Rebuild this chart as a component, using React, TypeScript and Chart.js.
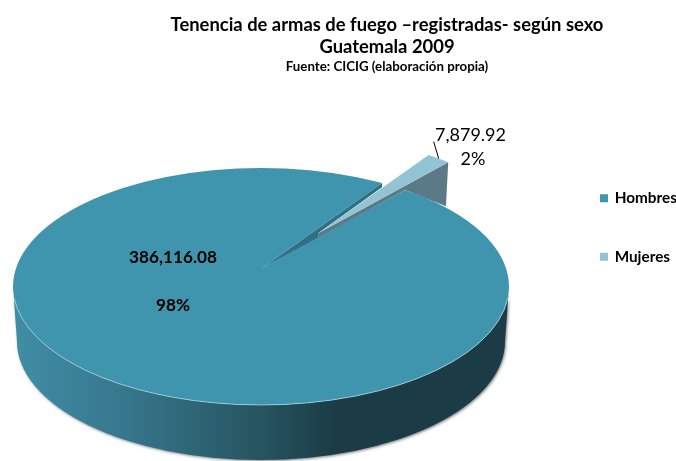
import React, { useEffect, useRef } from "react";
import { Chart, registerables } from "chart.js";

Chart.register(...registerables);

const categories = ["Hombres", "Mujeres"];
const values = [386116.08, 7879.92];
const sliceColors = ["#4095AE", "#93C4D6"];
const titleLines = ["Tenencia de armas de fuego –registradas- según sexo", "Guatemala 2009"];
const subtitleText = "Fuente: CICIG (elaboración propia)";

const FONT = "Lato, Carlito, sans-serif";
// apex of the slices (perspective puts it above the centre of the disc)
const APEX_X = 261.7;
const APEX_Y = 268.3;
// the disc outline
const DISC_X = 261;
const DISC_Y = 286.5;
const DISC_RX = 248;
const DISC_RY = 118.5;
const TILT = DISC_RY / DISC_RX;
const SLICE_RADIUS = 310;
const ROTATION = 41.2;
const RIM_DROP = 55;
const WEDGE_RADIUS = 197.5;
const WEDGE_OFFSET = 92.5;

const total = values.reduce((a, b) => a + b, 0);
const money = (v: number) => v.toLocaleString("en-US", { minimumFractionDigits: 2, maximumFractionDigits: 2 });
const pct = (v: number) => `${Math.round((v / total) * 100)}%`;

const pt = (ox: number, oy: number, r: number, a: number) => [ox + Math.cos(a) * r, oy + Math.sin(a) * r * TILT];

// where a ray leaving the apex at canvas angle a meets the disc outline
const rimPoint = (a: number) => {
  const cx = (DISC_X - APEX_X);
  const cy = (DISC_Y - APEX_Y) / TILT;
  const b = Math.cos(a) * cx + Math.sin(a) * cy;
  const c = cx * cx + cy * cy - DISC_RX * DISC_RX;
  const r = b + Math.sqrt(b * b - c);
  return pt(APEX_X, APEX_Y, r, a);
};

const pie3d = {
  id: "pie3d",
  afterDatasetsUpdate(chart: any) {
    const [h, m] = chart.getDatasetMeta(0).data;
    const mid = (m.startAngle + m.endAngle) / 2;
    m.x = h.x + Math.cos(mid) * WEDGE_OFFSET;
    m.y = h.y + Math.sin(mid) * WEDGE_OFFSET;
    m.outerRadius = WEDGE_RADIUS;
    m.hidden = true; // drawn outside the disc clip, in afterDatasetsDraw
  },
  afterLayout(chart: any) {
    const lg = chart.legend;
    const pad = lg.options.labels.padding;
    const dx = 601 - (lg.left + pad);
    const dy = 190.5 - (lg.top + pad);
    lg.left += dx;
    lg.right += dx;
    lg.top += dy;
    lg.bottom += dy;
  },
  beforeDatasetsDraw(chart: any) {
    const ctx = chart.ctx;
    const [h, m] = chart.getDatasetMeta(0).data;

    // outer rim
    ctx.save();
    const grad = ctx.createLinearGradient(DISC_X - DISC_RX, 0, DISC_X + DISC_RX, 0);
    grad.addColorStop(0, "#3F8EA6");
    grad.addColorStop(0.2, "#387A90");
    grad.addColorStop(0.5, "#26545F");
    grad.addColorStop(0.65, "#1B3C47");
    grad.addColorStop(1, "#1B3C47");
    ctx.shadowColor = "rgba(0,0,0,0.5)";
    ctx.shadowBlur = 3;
    ctx.shadowOffsetX = 1;
    ctx.shadowOffsetY = 1;
    ctx.fillStyle = grad;
    ctx.beginPath();
    ctx.ellipse(DISC_X, DISC_Y, DISC_RX, DISC_RY, 0, 0, Math.PI, false);
    ctx.ellipse(DISC_X, DISC_Y + RIM_DROP, DISC_RX - 4, DISC_RY, 0, Math.PI, 0, true);
    ctx.closePath();
    ctx.fill();
    ctx.restore();

    // wedge cut wall
    const mid = (m.startAngle + m.endAngle) / 2;
    const tip = pt(APEX_X, APEX_Y, WEDGE_OFFSET, mid);
    const wedgeEnd = pt(tip[0], tip[1], WEDGE_RADIUS, m.endAngle);
    const rimHit = rimPoint(m.endAngle);
    ctx.fillStyle = "#5B7A86";
    ctx.beginPath();
    ctx.moveTo(tip[0], tip[1]);
    ctx.lineTo(wedgeEnd[0], wedgeEnd[1]);
    ctx.lineTo(wedgeEnd[0] - 2.3, wedgeEnd[1] + 44);
    ctx.lineTo(rimHit[0], rimHit[1]);
    ctx.lineTo(tip[0], tip[1] + 5);
    ctx.closePath();
    ctx.fill();

    // inner wall of the big slice
    const rimStart = rimPoint(m.startAngle);
    ctx.fillStyle = "#2F7085";
    ctx.beginPath();
    ctx.moveTo(APEX_X, APEX_Y);
    ctx.lineTo(rimStart[0], rimStart[1]);
    ctx.lineTo(rimStart[0], rimStart[1] + 4.3);
    ctx.lineTo(tip[0], tip[1]);
    ctx.lineTo(tip[0], tip[1] + 5);
    ctx.closePath();
    ctx.fill();

    ctx.save();
    ctx.beginPath();
    ctx.ellipse(DISC_X, DISC_Y, DISC_RX, DISC_RY, 0, 0, Math.PI * 2);
    ctx.clip();
    ctx.translate(APEX_X, APEX_Y);
    ctx.scale(1, TILT);
    ctx.translate(-h.x, -h.y);
  },
  afterDatasetsDraw(chart: any) {
    const ctx = chart.ctx;
    ctx.restore();
    const [h, m] = chart.getDatasetMeta(0).data;

    // the small slice, outside the disc clip
    ctx.save();
    ctx.translate(APEX_X, APEX_Y);
    ctx.scale(1, TILT);
    ctx.translate(-h.x, -h.y);
    m.draw(ctx);
    ctx.restore();

    // highlight on the front edge
    ctx.save();
    ctx.strokeStyle = "rgba(190,225,235,0.65)";
    ctx.lineWidth = 1;
    ctx.beginPath();
    ctx.ellipse(DISC_X, DISC_Y, DISC_RX, DISC_RY, 0, 0.1, Math.PI - 0.1, false);
    ctx.stroke();
    ctx.restore();

    // data labels
    const mid = (m.startAngle + m.endAngle) / 2;
    const tip = pt(APEX_X, APEX_Y, WEDGE_OFFSET, mid);
    const end = pt(tip[0], tip[1], WEDGE_RADIUS, mid);
    ctx.save();
    ctx.strokeStyle = "#000";
    ctx.lineWidth = 1;
    ctx.beginPath();
    ctx.moveTo(end[0], end[1]);
    ctx.lineTo(end[0] - 5, end[1] - 17);
    ctx.stroke();
    ctx.fillStyle = "#000";
    ctx.textAlign = "center";
    ctx.textBaseline = "middle";
    ctx.font = `18px ${FONT}`;
    ctx.fillText(money(values[1]), 470.5, 135);
    ctx.fillText(pct(values[1]), 473, 159);
    ctx.font = `bold 17.2px ${FONT}`;
    ctx.fillText(money(values[0]), 173, 257);
    ctx.fillText(pct(values[0]), 173, 305);
    ctx.restore();
  },
};

export default function App() {
  const ref = useRef<HTMLCanvasElement | null>(null);
  useEffect(() => {
    const chart = new Chart(ref.current as HTMLCanvasElement, {
      type: "pie",
      data: {
        labels: categories,
        datasets: [
          {
            data: values,
            backgroundColor: sliceColors,
            borderWidth: 0,
            clip: false,
          } as any,
        ],
      },
      options: {
        responsive: false,
        animation: false,
        events: [],
        rotation: ROTATION,
        radius: SLICE_RADIUS,
        layout: { padding: { left: 98, right: 0, top: 0, bottom: 0 } },
        plugins: {
          tooltip: { enabled: false },
          title: {
            display: true,
            text: titleLines,
            color: "#000",
            font: { family: FONT, size: 18.4, weight: "bold", lineHeight: 1.2 },
            padding: { top: 14, bottom: 0 },
          },
          subtitle: {
            display: true,
            text: subtitleText,
            color: "#000",
            font: { family: FONT, size: 13.3, weight: "bold", lineHeight: 1.2 },
            padding: { top: 1, bottom: 4 },
          },
          legend: {
            display: true,
            position: "right",
            align: "start",
            labels: {
              boxWidth: 6,
              boxHeight: 6,
              padding: 43.4,
              color: "#000",
              font: { family: FONT, size: 15.3, weight: "bold" },
              generateLabels: (chart: any) =>
                (Chart as any).overrides.pie.plugins.legend.labels
                  .generateLabels(chart)
                  .map((it: any) => ({ ...it, hidden: false, lineWidth: 2, strokeStyle: it.fillStyle })),
            },
          },
        },
      } as any,
      plugins: [pie3d as any],
    });
    return () => chart.destroy();
  }, []);
  return (
    <canvas
      ref={ref}
      width={676}
      height={461}
      style={{ position: "absolute", left: 0, top: 0, display: "block" }}
    />
  );
}
